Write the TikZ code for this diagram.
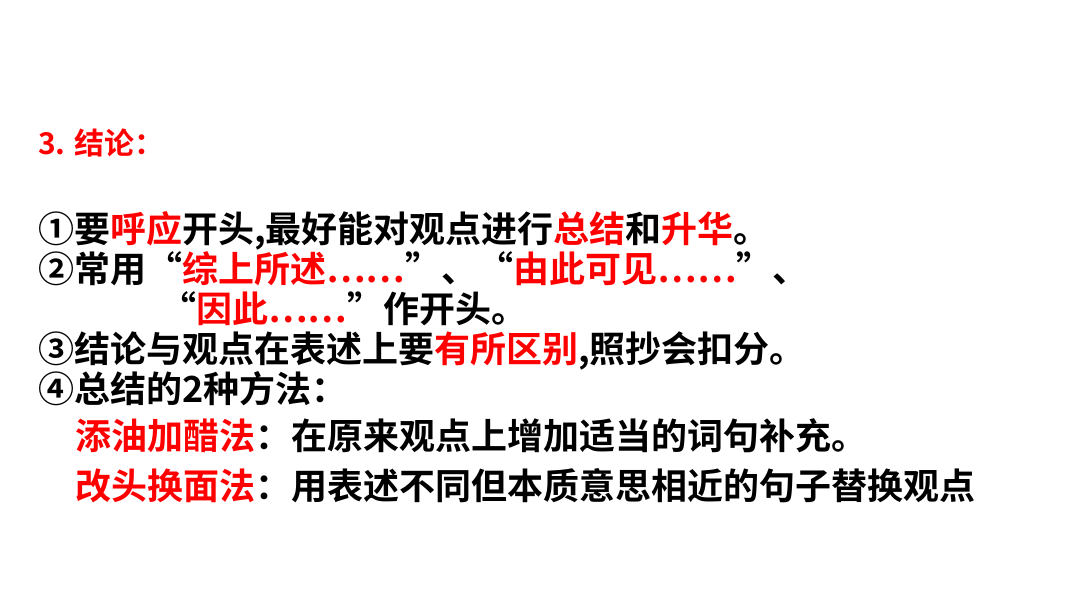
\documentclass[tikz,border=0pt]{standalone}
\usepackage{fontspec}
\setmainfont{Noto Sans CJK SC}[BoldFont={Noto Sans CJK SC Bold}]
\definecolor{myred}{RGB}{255,0,0}
\newcommand{\rd}[1]{{\color{myred}#1}}
\begin{document}
\begin{tikzpicture}[x=1pt,y=-1pt,
  ln/.style={anchor=base west,inner sep=0pt,font=\fontsize{36}{36}\selectfont\bfseries}]
\useasboundingbox[fill=white] (0,0) rectangle (1080,608);
\node[ln,font=\fontsize{30}{30}\selectfont\bfseries\color{myred}] (t) at (38,154) {3. 结论：};
\node[ln] (l1) at (38,242) {①要\rd{呼应}开头,最好能对观点进行\rd{总结}和\rd{升华}。};
\node[ln] (l2) at (38,282) {②常用“\rd{综上所述……}”、“\rd{由此可见……}”、};
\node[ln] (l3) at (160,322) {“\rd{因此……}”作开头。};
\node[ln] (l4) at (38,362) {③结论与观点在表述上要\rd{有所区别},照抄会扣分。};
\node[ln] (l5) at (38,402) {④总结的2种方法：};
\node[ln] (l6) at (75,449) {\rd{添油加醋法}：在原来观点上增加适当的词句补充。};
\node[ln] (l7) at (75,499) {\rd{改头换面法}：用表述不同但本质意思相近的句子替换观点};
\end{tikzpicture}
\end{document}
